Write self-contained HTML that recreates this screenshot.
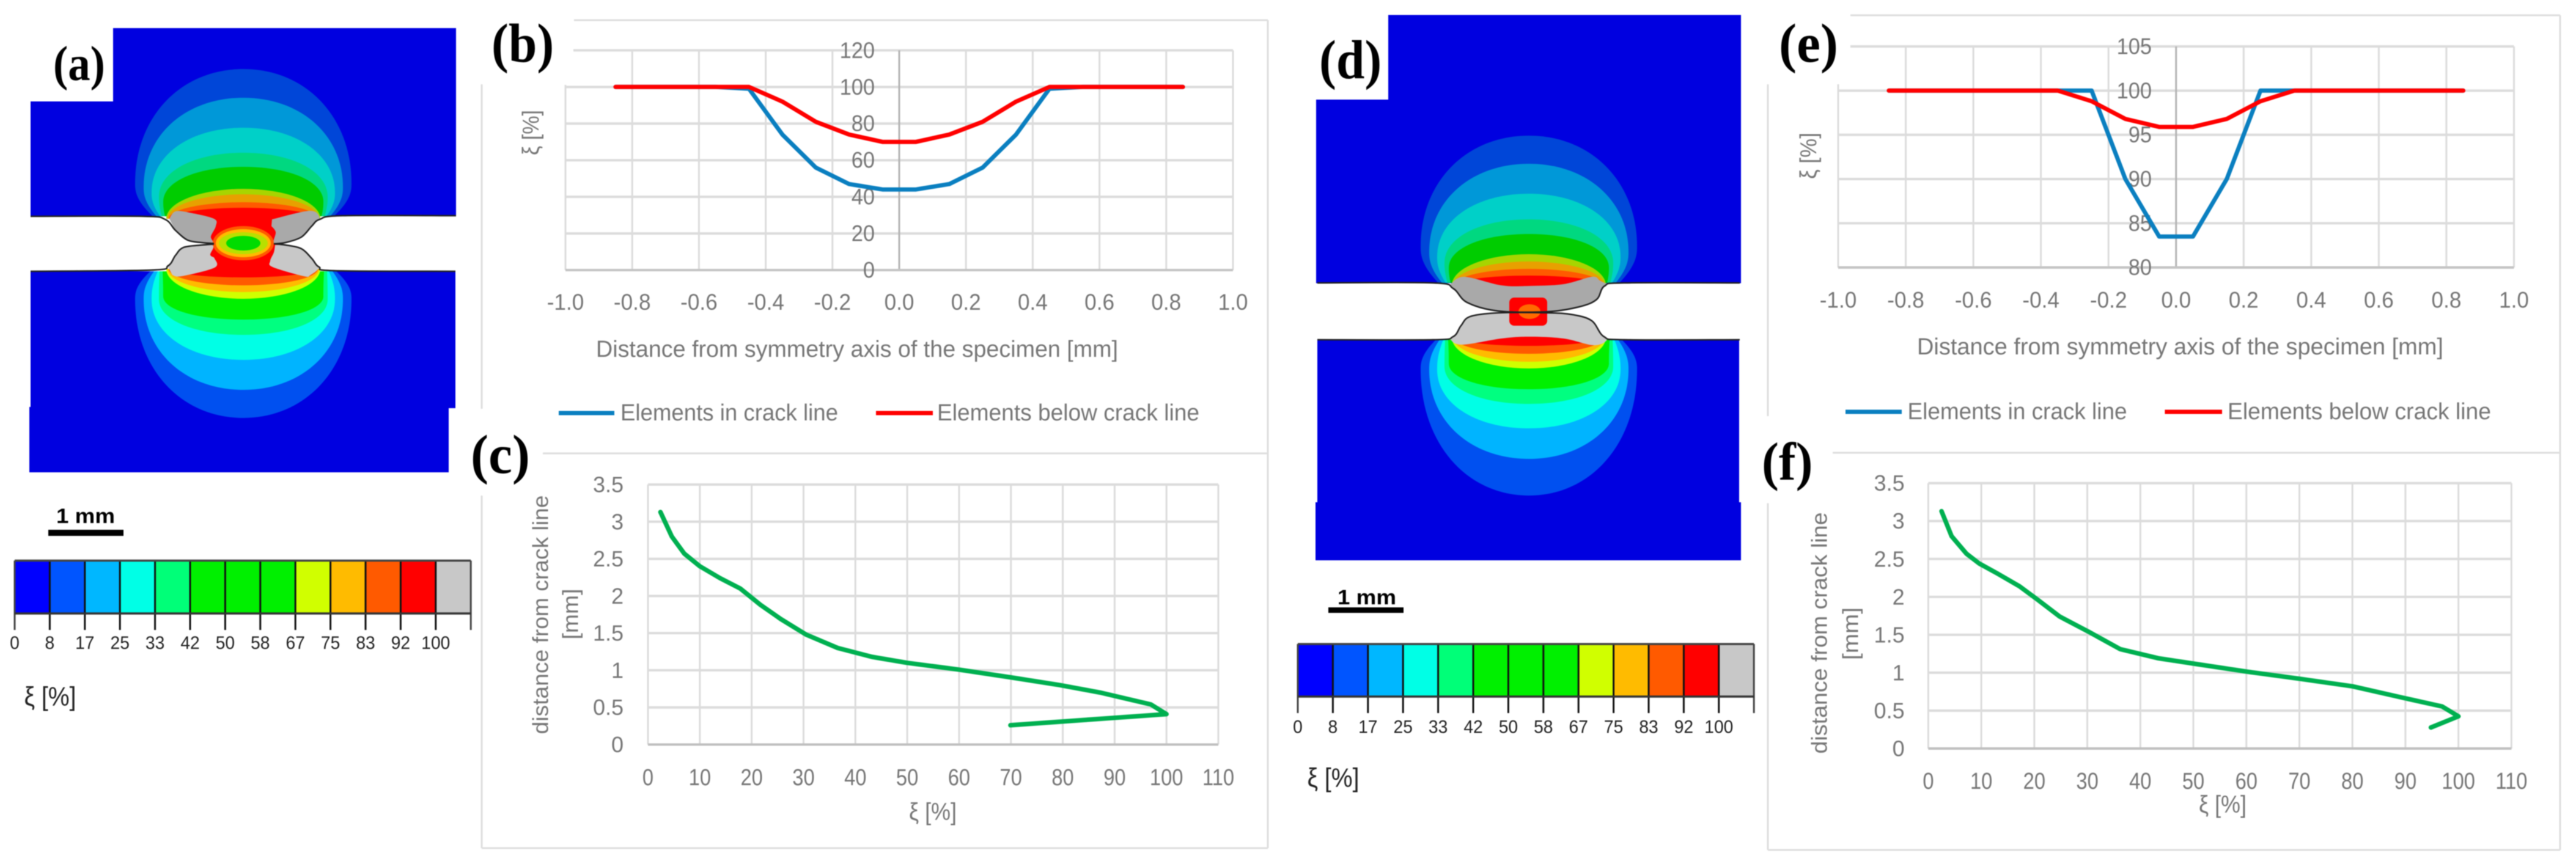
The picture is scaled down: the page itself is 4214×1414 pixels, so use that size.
<!DOCTYPE html>
<html lang="en">
<head>
<meta charset="utf-8">
<title>Damage contour maps and profile charts</title>
<style>
html,body{margin:0;padding:0;background:#fff;width:4214px;height:1414px;overflow:hidden}
svg{display:block;filter:blur(0.7px)}
text{font-family:"Liberation Sans",sans-serif}
.plabel{font-family:"Liberation Serif",serif;font-weight:bold;fill:#000}
</style>
</head>
<body>
<svg id="figure" xmlns="http://www.w3.org/2000/svg" width="4214" height="1414" viewBox="0 0 4214 1414">
<rect width="4214" height="1414" fill="#fff"/>
<g id="fea-a"></g>
<g id="fea-d"></g>
<g id="bar-a"></g>
<g id="bar-d"></g>
<g id="chart-b"></g>
<g id="chart-c"></g>
<g id="chart-e"></g>
<g id="chart-f"></g>
<g id="labels">
<text class="plabel" font-size="80" transform="translate(87,131) scale(.91,1)">(a)</text>
<text class="plabel" font-size="90" transform="translate(804,101) scale(.93,1)">(b)</text>
<text class="plabel" font-size="90" transform="translate(770,774) scale(.97,1)">(c)</text>
<text class="plabel" font-size="90" transform="translate(2158,128) scale(.93,1)">(d)</text>
<text class="plabel" font-size="90" transform="translate(2910,101) scale(.97,1)">(e)</text>
<text class="plabel" font-size="88" transform="translate(2882,785) scale(.95,1)">(f)</text>
</g>
</svg>
<script>
// ---- chart data ----
const xTickLabels = ['-1.0','-0.8','-0.6','-0.4','-0.2','0.0','0.2','0.4','0.6','0.8','1.0'];
const yTickLabelsB = ['0','20','40','60','80','100','120'];
const yTickLabelsE = ['80','85','90','95','100','105'];
const xiTickLabels = ['0','10','20','30','40','50','60','70','80','90','100','110'];
const distTickLabels = ['0','0.5','1','1.5','2','2.5','3','3.5'];

const positions = [-0.85,-0.75,-0.65,-0.55,-0.45,-0.35,-0.25,-0.15,-0.05,0.05,0.15,0.25,0.35,0.45,0.55,0.65,0.75,0.85];
const inCrackB = [100,100,100,100,99,74,56,47,44,44,47,56,74,99,100,100,100,100];
const belowCrackB = [100,100,100,100,100,92,81,74,70,70,74,81,92,100,100,100,100,100];
const inCrackE = [100,100,100,100,100,100,100,90,83.5,83.5,90,100,100,100,100,100,100,100];
const belowCrackE = [100,100,100,100,100,100,98.8,96.8,95.9,95.9,96.8,98.8,100,100,100,100,100,100];

const xiC = [2.4,4.6,7,10,13.9,17.8,21.7,25.6,30.5,36.6,43.2,50,59.8,69.9,79.4,87.2,97,100,69.9];
const distC = [3.13,2.8,2.57,2.4,2.24,2.1,1.88,1.69,1.48,1.3,1.18,1.1,1.01,0.905,0.8,0.7,0.54,0.41,0.26];
const xiF = [2.5,4.4,7.2,9.6,13,17.2,20.5,24.8,30.5,36.2,43.4,50,60,70,80,89.5,96.9,100,94.8];
const distF = [3.13,2.8,2.57,2.44,2.31,2.14,1.97,1.74,1.53,1.31,1.19,1.12,1.015,0.92,0.82,0.67,0.555,0.425,0.277];

const scaleLabels = ['0','8','17','25','33','42','50','58','67','75','83','92','100'];
const scaleColors = ['#0000ff','#0055ff','#00b7ff','#00ffe6','#00ff78','#00f000','#00f000','#00f000','#d0ff00','#ffbb00','#ff5a00','#ff0000','#c8c8c8'];

// ---- helpers ----
const NS = 'http://www.w3.org/2000/svg';
function mk(tag, name, parent, attrs) {
  const el = document.createElementNS(NS, tag);
  
  
  for (const k in attrs) el.setAttribute(k, attrs[k]);
  parent.appendChild(el);
  return el;
}
function txt(parent, name, str, x, y, size, o) {
  o = o || {};
  const t = `translate(${x},${y})` + (o.rot ? ` rotate(${o.rot})` : '') + (o.sx ? ` scale(${o.sx},1)` : '');
  const attrs = {transform: t, 'font-size': size, fill: o.fill || '#767676', 'text-anchor': o.anchor || 'middle', 'dominant-baseline': 'central'};
  if (o.len) { attrs.textLength = o.len; attrs.lengthAdjust = 'spacingAndGlyphs'; }
  if (o.weight) attrs['font-weight'] = o.weight;
  const el = mk('text', name, parent, attrs);
  el.textContent = str;
  return el;
}
function line(parent, name, x1, y1, x2, y2, stroke, w) {
  return mk('line', name, parent, {x1, y1, x2, y2, stroke, 'stroke-width': w});
}
function linScale(d0, d1, r0, r1) { return v => r0 + (v - d0) * (r1 - r0) / (d1 - d0); }
// Smooth an "M x y L x y ..." outline with a Catmull-Rom spline.
function smooth(d) {
  const closed = /Z\s*$/.test(d);
  const nums = d.match(/-?[\d.]+/g).map(Number), p = [];
  for (let i = 0; i < nums.length; i += 2) p.push([nums[i], nums[i + 1]]);
  let out = `M${p[0][0]} ${p[0][1]}`;
  for (let i = 0; i < p.length - 1; i++) {
    const a = p[Math.max(i - 1, 0)], b = p[i], c = p[i + 1], e = p[Math.min(i + 2, p.length - 1)];
    const c1 = [b[0] + (c[0] - a[0]) / 6, b[1] + (c[1] - a[1]) / 6];
    const c2 = [c[0] - (e[0] - b[0]) / 6, c[1] - (e[1] - b[1]) / 6];
    out += ` C${c1[0].toFixed(1)} ${c1[1].toFixed(1)} ${c2[0].toFixed(1)} ${c2[1].toFixed(1)} ${c[0]} ${c[1]}`;
  }
  return out + (closed ? 'Z' : '');
}

// ---- line charts ----
function drawProfile(c) {
  const g = document.getElementById(c.id);
  const x = linScale(-1, 1, c.x0, c.x1), y = linScale(c.yMin, c.yMax, c.y0, c.y1);
  c.yTicks.forEach(l => line(g, 'grid-horizontal', c.x0, y(+l), c.x1, y(+l), '#dcdcdc', 4));
  xTickLabels.forEach(l => {
    const v = +l;
    line(g, v === 0 ? 'y-axis-line' : 'grid-vertical', x(v), c.y1, x(v), c.y0, v === 0 ? '#b4b4b4' : '#dcdcdc', 3);
  });
  line(g, 'x-axis-line', c.x0, c.y0, c.x1, c.y0, '#c4c4c4', 4);
  mk('rect', 'label-mask', g, {x: c.mask[0], y: c.mask[1], width: c.mask[2], height: c.mask[3], fill: '#fff'});
  c.frame.forEach(f => line(g, 'chart-frame', f[0], f[1], f[2], f[3], '#dedede', 3));
  c.yTicks.forEach(l => txt(g, 'y-tick-label', l, c.yLabelX, y(+l), 37, {anchor: 'end', sx: .93}));
  xTickLabels.forEach(l => txt(g, 'x-tick-label', l, x(+l), c.xLabelY, 37, {sx: .95}));
  txt(g, 'x-axis-title', 'Distance from symmetry axis of the specimen [mm]', c.xTitle[0], c.xTitle[1], 38, {anchor: 'start', len: c.xTitle[2]});
  txt(g, 'y-axis-title', 'ξ [%]', c.yTitle[0], c.yTitle[1], 38, {rot: -90, len: c.yTitle[2], anchor: 'middle'});
  const path = vals => positions.map((p, i) => (i ? 'L' : 'M') + x(p).toFixed(1) + ' ' + y(vals[i]).toFixed(1)).join(' ');
  mk('path', 'series-elements-in-crack-line', g, {d: path(c.blue), fill: 'none', stroke: '#0a7fc0', 'stroke-width': 7, 'stroke-linejoin': 'round', 'stroke-linecap': 'round'});
  mk('path', 'series-elements-below-crack-line', g, {d: path(c.red), fill: 'none', stroke: '#ff0000', 'stroke-width': 7, 'stroke-linejoin': 'round', 'stroke-linecap': 'round'});
  const L = c.legend;
  line(g, 'legend-line-in-crack', L.b0, L.y, L.b1, L.y, '#0a7fc0', 7);
  txt(g, 'legend-label-in-crack', 'Elements in crack line', L.t0, L.y, 38, {anchor: 'start', len: L.tw0});
  line(g, 'legend-line-below-crack', L.r0, L.y, L.r1, L.y, '#ff0000', 7);
  txt(g, 'legend-label-below-crack', 'Elements below crack line', L.t1, L.y, 38, {anchor: 'start', len: L.tw1});
}
function drawDistance(c) {
  const g = document.getElementById(c.id);
  const x = linScale(0, 110, c.x0, c.x1), y = linScale(0, 3.5, c.y0, c.y1);
  distTickLabels.forEach(l => line(g, 'grid-horizontal', c.x0, y(+l), c.x1, y(+l), '#dcdcdc', 4));
  xiTickLabels.forEach(l => line(g, 'grid-vertical', x(+l), c.y1, x(+l), c.y0, '#dcdcdc', 3));
  line(g, 'x-axis-line', c.x0, c.y0, c.x1, c.y0, '#c0c0c0', 4);
  c.frame.forEach(f => line(g, 'chart-frame', f[0], f[1], f[2], f[3], '#dedede', 3));
  distTickLabels.forEach(l => txt(g, 'y-tick-label', l, c.yLabelX, y(+l), 36, {anchor: 'end', sx: 1}));
  xiTickLabels.forEach(l => txt(g, 'x-tick-label', l, x(+l), c.xLabelY, 38, {sx: .86}));
  txt(g, 'x-axis-title', 'ξ [%]', c.xTitle[0], c.xTitle[1], 40, {len: 78, anchor: 'middle'});
  txt(g, 'y-axis-title-line-1', 'distance from crack line', c.yTitle1[0], c.yTitle1[1], 36, {rot: -90, len: c.yTitle1[2]});
  txt(g, 'y-axis-title-line-2', '[mm]', c.yTitle2[0], c.yTitle2[1], 36, {rot: -90, len: c.yTitle2[2]});
  const d = c.xi.map((v, i) => (i ? 'L' : 'M') + x(v).toFixed(1) + ' ' + y(c.dist[i]).toFixed(1)).join(' ');
  mk('path', 'series-damage-profile', g, {d, fill: 'none', stroke: '#00b050', 'stroke-width': 7.5, 'stroke-linejoin': 'round', 'stroke-linecap': 'round'});
}

drawProfile({id: 'chart-b', x0: 925, x1: 2017, yMin: 0, yMax: 120, y0: 442, y1: 82.4, yTicks: yTickLabelsB, blue: inCrackB, red: belowCrackB,
  yLabelX: 1431, xLabelY: 494, xTitle: [975, 572, 854], yTitle: [869, 217, 74],
  mask: [786, 30, 152, 109],
  frame: [[939, 33, 2074, 33], [2074, 33, 2074, 742], [788, 138, 788, 669]],
  legend: {y: 676, b0: 914, b1: 1005, t0: 1015, tw0: 356, r0: 1433, r1: 1526, t1: 1533, tw1: 429}});
drawDistance({id: 'chart-c', x0: 1060, x1: 1993, y0: 1218.5, y1: 793, xi: xiC, dist: distC,
  yLabelX: 1020, xLabelY: 1272, xTitle: [1526, 1329], yTitle1: [884, 1006, 391], yTitle2: [933, 1005, 83],
  frame: [[888, 742, 2074, 742], [2074, 742, 2074, 1388], [788, 1388, 2074, 1388], [788, 811, 788, 1388]]});
drawProfile({id: 'chart-e', x0: 3007, x1: 4112.5, yMin: 80, yMax: 105, y0: 437.7, y1: 76, yTicks: yTickLabelsE, blue: inCrackE, red: belowCrackE,
  yLabelX: 3520, xLabelY: 490.5, xTitle: [3136, 568, 861], yTitle: [2959, 255, 76],
  mask: [2890, 20, 137, 118],
  frame: [[3027, 25, 4188, 25], [4188, 25, 4188, 741], [2892, 138, 2892, 681]],
  legend: {y: 674, b0: 3019, b1: 3111, t0: 3120.5, tw0: 359, r0: 3541.4, r1: 3635, t1: 3644, tw1: 431}});
drawDistance({id: 'chart-f', x0: 3154.4, x1: 4108.4, y0: 1225, y1: 790.7, xi: xiF, dist: distF,
  yLabelX: 3115.6, xLabelY: 1278, xTitle: [3636, 1317], yTitle1: [2976, 1036, 395], yTitle2: [3027, 1037, 86],
  frame: [[2998, 741, 4188, 741], [4188, 741, 4188, 1391], [2892, 1391, 4188, 1391], [2892, 823.5, 2892, 1391]]});

// ---- colour scales ----
function drawBar(id, x0, top, bottom, tickEnd, labelY) {
  const g = document.getElementById(id), step = 57.4;
  scaleColors.forEach((col, i) => mk('rect', 'scale-swatch', g, {x: x0 + i * step, y: top, width: step, height: bottom - top, fill: col}));
  for (let i = 0; i <= scaleColors.length; i++) {
    line(g, 'scale-tick', x0 + i * step, top, x0 + i * step, tickEnd, i === 0 || i === 13 ? '#444' : '#111', 3);
  }
  line(g, 'scale-top-edge', x0, top, x0 + 13 * step, top, '#444', 3.5);
  line(g, 'scale-bottom-edge', x0, bottom, x0 + 13 * step, bottom, '#333', 3.5);
  scaleLabels.forEach((l, i) => txt(g, 'scale-label', l, x0 + i * step, labelY, 30, {fill: '#222', sx: .94}));
}
drawBar('bar-a', 24, 917.5, 1004, 1031, 1052.5);
drawBar('bar-d', 2123, 1054, 1140, 1167, 1190);
const gba = document.getElementById('bar-a'), gbd = document.getElementById('bar-d');
txt(gba, 'scale-bar-text', '1 mm', 140, 845, 34, {fill: '#000', weight: 'bold', len: 96});
mk('rect', 'scale-bar', gba, {x: 79, y: 867, width: 123, height: 10, fill: '#000'});
txt(gba, 'scale-title', 'ξ [%]', 82, 1140, 44, {fill: '#222', len: 85});
txt(gbd, 'scale-bar-text', '1 mm', 2236, 978, 34, {fill: '#000', weight: 'bold', len: 96});
mk('rect', 'scale-bar', gbd, {x: 2173, y: 994, width: 123, height: 9, fill: '#000'});
txt(gbd, 'scale-title', 'ξ [%]', 2181, 1273, 44, {fill: '#222', len: 85});

// ---- contour maps ----
const upCols = ['#0046d8', '#0098d8', '#00d0c8', '#00d880', '#00cc00'];
const upCaps = ['#a8d400', '#e8a000', '#ff5a00', '#ff0000'];
const loCols = ['#0050f0', '#00b4ff', '#00ffe6', '#00ff80', '#00f000'];
const loCaps = ['#d0ff00', '#ffbb00', '#ff5a00', '#ff0000'];
const widths = [177, 163, 150, 138, 131], bases = [148, 142, 136, 133, 128];
const capB = [126, 124, 122, 118];
function egg(cx, base, apex, w, wy, b) {
  const k = 0.58;
  return `M${cx - b} ${base} C${cx - w} ${base + (wy - base) * .5} ${cx - w} ${wy + (base - wy) * .2} ${cx - w} ${wy}` +
    ` C${cx - w} ${wy + (apex - wy) * k} ${cx - w * k} ${apex} ${cx} ${apex}` +
    ` C${cx + w * k} ${apex} ${cx + w} ${wy + (apex - wy) * k} ${cx + w} ${wy}` +
    ` C${cx + w} ${wy + (base - wy) * .2} ${cx + w} ${base + (wy - base) * .5} ${cx + b} ${base}Z`;
}
function drawMap(m) {
  const g = document.getElementById(m.id);
  m.blue.forEach(r => mk('rect', 'specimen-body', g, {x: r[0], y: r[1], width: r[2], height: r[3], fill: '#0000e0'}));
  mk('rect', 'label-box', g, {x: m.box[0], y: m.box[1], width: m.box[2], height: m.box[3], fill: '#fff'});
  widths.forEach((w, i) => mk('path', 'contour-band-upper', g, {d: egg(m.cx, m.upBase, m.upTops[i], w, m.upWide[i], bases[i]), fill: upCols[i]}));
  widths.forEach((w, i) => mk('path', 'contour-band-lower', g, {d: egg(m.cx, m.loBase, m.loTops[i], w, m.loWide[i], bases[i] + 4), fill: loCols[i]}));
  capB.forEach((b, i) => mk('path', 'contour-cap-upper', g, {d: `M${m.cx - b} ${m.upCapBase} A${b} ${m.upCapBase - m.upCaps[i]} 0 0 1 ${m.cx + b} ${m.upCapBase}Z`, fill: upCaps[i]}));
  capB.forEach((b, i) => mk('path', 'contour-cap-lower', g, {d: `M${m.cx - b} ${m.loCapBase} A${b} ${m.loCaps[i] - m.loCapBase} 0 0 0 ${m.cx + b} ${m.loCapBase}Z`, fill: loCaps[i]}));
  mk('rect', 'red-core', g, {x: m.core[0], y: m.core[1], width: m.core[2], height: m.core[3], fill: '#ff0000'});
  m.grayUp.forEach(d => mk('path', 'necked-gray-region-upper', g, {d: smooth(d), fill: '#a9a9a9'}));
  m.grayLo.forEach(d => mk('path', 'necked-gray-region-lower', g, {d: smooth(d), fill: '#c8c8c8'}));
  mk('path', 'notch-left', g, {d: smooth(m.notchL), fill: '#fff'});
  mk('path', 'notch-right', g, {d: smooth(m.notchR), fill: '#fff'});
  m.center(g);
  m.edges.forEach(d => mk('path', 'specimen-outline', g, {d: smooth(d), fill: 'none', stroke: '#222', 'stroke-width': 2.5, 'stroke-linejoin': 'round'}));
}
drawMap({id: 'fea-a', cx: 398,
  blue: [[50, 46, 696, 308], [50, 444, 695, 224], [48, 666, 686, 107]],
  box: [46, 44, 139, 122],
  upBase: 354, upTops: [113, 160, 209, 250, 273], upWide: [300, 306, 315, 322, 330],
  loBase: 444, loTops: [684, 638, 589, 548, 523], loWide: [490, 490, 490, 490, 485],
  upCapBase: 358, upCaps: [309, 318, 331, 340],
  loCapBase: 440, loCaps: [489, 478, 467, 454],
  core: [340, 345, 116, 105],
  notchL: 'M46 354 L233 354 L270 359 L287 377 L307 393 L330 397 L350 398.5 L350 399.5 L330 401 L300 405 L287 418 L275 435 L247 442 L46 444Z',
  notchR: 'M750 353 L560 353 L523 359 L510 370 L493 388 L467 397 L448 399 L467 401 L493 407 L510 423 L522 437 L547 443 L750 443Z',
  grayUp: ['M277 358 L287 346 L310 348 L350 358 L353 370 L345 387 L348 397 L330 397 L307 393 L287 377Z',
           'M445 359 L507 345 L523 358 L510 370 L493 388 L467 397 L448 398 L451 380 L444 370Z'],
  grayLo: ['M275 437 L285 420 L303 405 L347 401 L344 417 L351 423 L351 438 L297 452 L282 450Z',
           'M450 401 L448 413 L442 427 L446 437 L497 452 L508 450 L522 437 L510 423 L493 407 L467 401Z'],
  center: g => {
    mk('ellipse', 'core-ring-redorange', g, {cx: 398, cy: 398, rx: 50, ry: 28, fill: '#ff5a00'});
    mk('ellipse', 'core-ring-orange', g, {cx: 398, cy: 398, rx: 45, ry: 23, fill: '#ffbb00'});
    mk('ellipse', 'core-ring-yellow', g, {cx: 398, cy: 398, rx: 40, ry: 18, fill: '#b8e000'});
    mk('ellipse', 'core-green', g, {cx: 398, cy: 398, rx: 28, ry: 12, fill: '#00dc00'});
  },
  edges: ['M50 354 L233 354 L270 359 L287 377 L307 393 L330 397 L350 398.5', 'M350 399.5 L330 401 L300 405 L287 418 L275 435 L247 442 L50 444',
          'M746 353 L560 353 L523 359 L510 370 L493 388 L467 397 L448 399', 'M448 399 L467 401 L493 407 L510 423 L522 437 L547 443 L745 444']
});
drawMap({id: 'fea-d', cx: 2501,
  blue: [[2153, 24.5, 695, 439], [2155, 556, 690, 268], [2152, 822, 696, 95]],
  box: [2148, 20, 123, 143],
  upBase: 463, upTops: [222, 268, 317, 359, 383], upWide: [403, 412, 420, 430, 438],
  loBase: 556, loTops: [811, 751, 701, 661, 637], loWide: [605, 605, 605, 600, 595],
  upCapBase: 467, upCaps: [416, 428, 440, 451],
  loCapBase: 552, loCaps: [603, 592, 579, 566],
  core: [2395, 458, 212, 100],
  notchL: 'M2148 463.5 L2344 463.5 L2377 472 L2400 495 L2451 509 L2501 510.5 L2501 511.5 L2451 512 L2405 518 L2390 533 L2377 551 L2344 556 L2148 556Z',
  notchR: 'M2854 463.5 L2658 463.5 L2625 468 L2612 490 L2584 502 L2533 510 L2501 510.5 L2501 511.5 L2533 512 L2573 515 L2604 525 L2624 551 L2658 556 L2854 556Z',
  grayUp: ['M2372 466 L2395 453 L2456 467 L2501 468 L2558 465 L2604 453 L2617 459 L2630 470 L2612 495 L2584 510 L2533 513 L2451 512 L2400 500 L2372 475Z'],
  grayLo: ['M2451 509 L2405 515 L2385 533 L2372 551 L2390 564 L2456 554 L2501 551 L2558 554 L2609 565 L2630 551 L2604 522 L2573 512 L2533 509Z'],
  center: g => {
    mk('rect', 'core-red', g, {x: 2469, y: 487, width: 62, height: 46, rx: 8, fill: '#ff0000'});
    mk('ellipse', 'core-orange', g, {cx: 2502, cy: 510, rx: 18, ry: 12, fill: '#ff6a00'});
  },
  edges: ['M2155 463 L2344 463 L2377 472 L2400 495 L2451 509 L2533 510 L2584 502 L2612 490 L2625 468 L2658 463 L2846 463',
          'M2155 556 L2344 556 L2377 551 L2390 533 L2405 518 L2451 512 L2533 512 L2573 515 L2604 525 L2624 551 L2658 556 L2846 556']
});
</script>
</body>
</html>
